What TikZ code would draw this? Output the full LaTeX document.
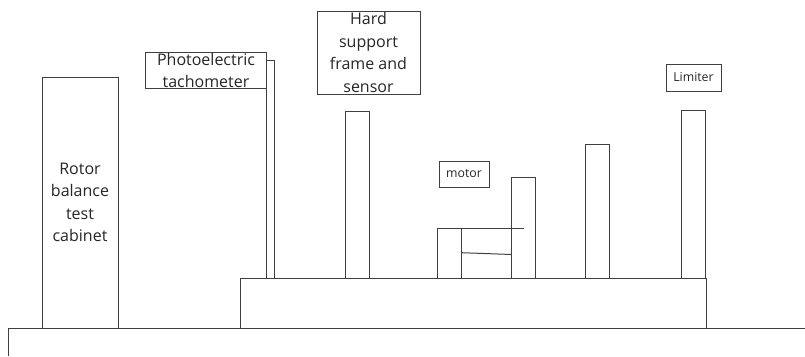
\documentclass[tikz,border=0pt]{standalone}
\usepackage{fontspec}
\setmainfont{Open Sans}
\tikzset{
  part/.style={draw=black!75,line width=1pt,fill=white,inner sep=0pt,outer sep=0pt,anchor=north west},
  bigtext/.style={inner sep=0pt,align=center,font=\fontsize{16}{22.5}\selectfont,text=black!85},
  smalltext/.style={inner sep=0pt,align=center,font=\fontsize{12.3}{14}\selectfont,text=black!85},
  wire/.style={draw=black!75,line width=1pt}
}
\begin{document}
\begin{tikzpicture}[x=1pt,y=-1pt]
\useasboundingbox (0,0) rectangle (805,356);
% ground
\coordinate (g0) at (8,356);
\coordinate (g1) at (8,328);
\coordinate (g2) at (805,328);
\draw[wire] (g0) -- (g1) -- (g2);
% cabinet and base
\node[part,minimum width=76pt,minimum height=251pt] (cab) at (42,77) {};
\node[bigtext] (cabt) at (cab.center) {Rotor\\balance\\test\\cabinet};
\node[part,minimum width=466pt,minimum height=50pt] (base) at (240,278) {};
% posts
\node[part,minimum width=8pt,minimum height=218pt] (p1) at (266,60) {};
\node[part,minimum width=24pt,minimum height=167pt] (p2) at (345,111) {};
\node[part,minimum width=24pt,minimum height=50pt] (m) at (437.7,228) {};
\node[part,minimum width=24pt,minimum height=101pt] (p3) at (511.7,177) {};
\node[part,minimum width=24pt,minimum height=134pt] (p4) at (585.7,144) {};
\node[part,minimum width=24pt,minimum height=168pt] (p5) at (681.7,110) {};
% connecting lines
\coordinate (s0) at (449,228);
\coordinate (s1) at (524,228);
\coordinate (r0) at (461.7,252.7);
\coordinate (r1) at (511.7,254.5);
\draw[wire] (s0) -- (s1);
\draw[wire] (r0) -- (r1);
% labels
\node[part,minimum width=121pt,minimum height=36pt] (photo) at (145,52) {};
\node[bigtext] (photot) at (206,70.5) {Photoelectric\\tachometer};
\node[part,minimum width=103pt,minimum height=83pt] (hard) at (317,11) {};
\node[bigtext] (hardt) at (hard.center) {Hard\\support\\frame and\\sensor};
\node[part,minimum width=50pt,minimum height=26pt] (motor) at (439,161) {};
\node[smalltext] (motort) at (motor.center) {motor};
\node[part,minimum width=55pt,minimum height=27pt] (lim) at (666,64) {};
\node[smalltext] (limt) at (lim.center) {Limiter};
\end{tikzpicture}
\end{document}
